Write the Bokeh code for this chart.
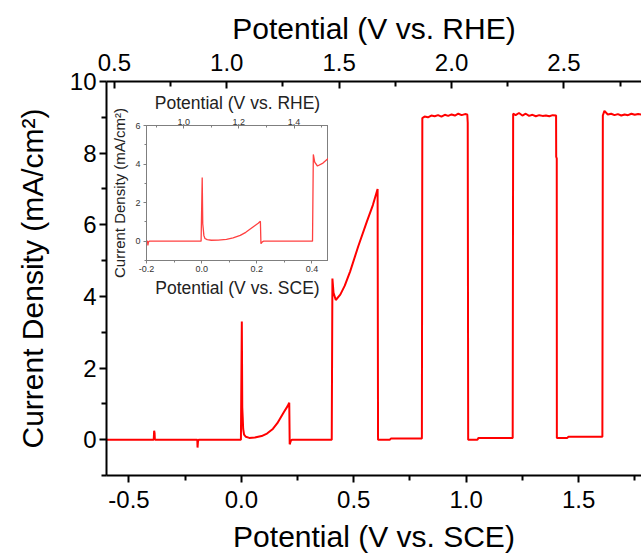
from bokeh.plotting import figure
from bokeh.models import Range1d, LinearAxis, FixedTicker, Column, NumeralTickFormatter
from bokeh.embed import file_html
from bokeh.resources import INLINE

# ---- data ----
potential_sce = [
    -0.6, -0.39, -0.388, -0.386, -0.385, -0.384,
    -0.196, -0.195, -0.193, -0.19,
    -0.002, 0.002, 0.004, 0.006, 0.008, 0.012, 0.02, 0.035, 0.06, 0.09,
    0.114, 0.14, 0.16, 0.175, 0.19, 0.205, 0.213, 0.215, 0.22, 0.225,
    0.402, 0.405, 0.41, 0.42, 0.44, 0.46, 0.484, 0.52, 0.559, 0.585, 0.606, 0.608,
    0.66, 0.665, 0.803,
    0.805, 0.815, 0.83, 0.845, 0.86, 0.875, 0.89, 0.905, 0.92, 0.935, 0.95, 0.965,
    0.98, 0.995, 1.005, 1.007, 1.009,
    1.05, 1.055, 1.207,
    1.209, 1.22, 1.235, 1.25, 1.265, 1.28, 1.295, 1.31, 1.325, 1.34, 1.355, 1.37,
    1.385, 1.4, 1.4005, 1.403, 1.4035,
    1.45, 1.455, 1.606,
    1.608, 1.615, 1.63, 1.645, 1.66, 1.675, 1.69, 1.705, 1.72, 1.735, 1.75, 1.765, 1.78,
]
current_density = [
    0.0, 0.0, 0.25, 0.18, 0.02, 0.0,
    0.0, -0.22, -0.05, 0.0,
    0.0, 3.3, 0.9, 0.62, 0.3, 0.14, 0.08, 0.05, 0.06, 0.1,
    0.17, 0.3, 0.46, 0.62, 0.78, 0.93, 1.03, -0.13, -0.03, 0.0,
    0.0, 4.5, 4.1, 3.9, 4.05, 4.3, 4.7, 5.4, 6.1, 6.55, 7.0, 0.0,
    0.0, 0.03, 0.03,
    8.98, 9.02, 9.0, 9.05, 9.03, 9.06, 9.02, 9.07, 9.04, 9.08, 9.05, 9.1,
    9.06, 9.09, 9.08, 8.85, 0.0,
    0.0, 0.05, 0.05,
    9.1, 9.06, 9.12, 9.05, 9.1, 9.04, 9.07, 9.03, 9.06, 9.04, 9.05, 9.03,
    9.06, 9.05, 7.9, 7.85, 0.05,
    0.05, 0.08, 0.08,
    9.05, 9.18, 9.08, 9.1, 9.06, 9.09, 9.05, 9.08, 9.06, 9.1, 9.07, 9.09, 9.08,
]

RHE_OFFSET = 1.065

main_x_ticks = [-0.5, 0.0, 0.5, 1.0, 1.5]
main_x_minor = [-0.25, 0.25, 0.75, 1.25, 1.75]
main_top_ticks = [0.5, 1.0, 1.5, 2.0, 2.5]
main_top_minor = [0.75, 1.25, 1.75, 2.25, 2.75]
main_y_ticks = [0, 2, 4, 6, 8, 10]
main_y_minor = [-1, 1, 3, 5, 7, 9]

inset_x_ticks = [-0.2, 0.0, 0.2, 0.4]
inset_x_minor = [-0.1, 0.1, 0.3]
inset_top_ticks = [1.0, 1.2, 1.4]
inset_top_minor = [0.9, 1.1, 1.3, 1.5]
inset_y_ticks = [0, 2, 4, 6]
inset_y_minor = [-1, 1, 3, 5]

FONT = "Liberation Sans"
MAIN_LEFT, MAIN_TOP, MAIN_BOTTOM = 106, 81, 80

# ---- main figure ----
x0, x1 = -0.6, 1.78
p = figure(width=641, height=555, x_range=Range1d(x0, x1), y_range=Range1d(-1, 10),
           x_axis_location=None, y_axis_location=None,
           output_backend="svg", toolbar_location=None,
           min_border_left=MAIN_LEFT, min_border_right=0,
           min_border_top=MAIN_TOP, min_border_bottom=MAIN_BOTTOM,
           outline_line_color=None, border_fill_color="white", background_fill_color="white")
p.extra_x_ranges = {"rhe": Range1d(x0 + RHE_OFFSET, x1 + RHE_OFFSET)}
p.xgrid.visible = False
p.ygrid.visible = False


def style_main(ax, ticks, minor, tick_in, tick_out, mtick_in, mtick_out):
    ax.ticker = FixedTicker(ticks=ticks, minor_ticks=minor)
    ax.axis_line_width = 2
    ax.axis_line_color = "black"
    ax.major_tick_line_width = 2
    ax.minor_tick_line_width = 2
    ax.major_tick_line_color = "black"
    ax.minor_tick_line_color = "black"
    ax.major_tick_in = tick_in
    ax.major_tick_out = tick_out
    ax.minor_tick_in = mtick_in
    ax.minor_tick_out = mtick_out
    ax.major_label_text_font = FONT
    ax.major_label_text_font_size = "24px"
    ax.major_label_text_color = "black"
    ax.axis_label_text_font = FONT
    ax.axis_label_text_font_size = "30px"
    ax.axis_label_text_font_style = "normal"
    ax.axis_label_text_color = "black"


bottom_axis = LinearAxis(axis_label="Potential (V vs. SCE)",
                         formatter=NumeralTickFormatter(format="0.0"))
style_main(bottom_axis, main_x_ticks, main_x_minor, 0, 7, 0, 5)
bottom_axis.major_label_standoff = 8
bottom_axis.axis_label_standoff = 9
p.add_layout(bottom_axis, "below")

top_axis = LinearAxis(x_range_name="rhe", axis_label="Potential (V vs. RHE)",
                      formatter=NumeralTickFormatter(format="0.0"))
style_main(top_axis, main_top_ticks, main_top_minor, 7, 0, 5, 0)
top_axis.major_label_standoff = 11
top_axis.axis_label_standoff = 6
p.add_layout(top_axis, "above")

left_axis = LinearAxis(axis_label="Current Density (mA/cm²)")
style_main(left_axis, main_y_ticks, main_y_minor, 0, 7, 0, 5)
left_axis.major_label_standoff = 3
left_axis.axis_label_standoff = 18
p.add_layout(left_axis, "left")

p.line(potential_sce, current_density, line_color="#ff0000", line_width=2)

# ---- inset figure (left border equal to the main one, since a column aligns them) ----
ix0, ix1 = -0.2, 0.46
IN_FRAME_LEFT, IN_FRAME_TOP = 146, 125
IN_W, IN_H = 182, 135
IN_TOP, IN_BOTTOM = 44, 44
ins = figure(width=MAIN_LEFT + IN_W, height=IN_TOP + IN_H + IN_BOTTOM,
             x_range=Range1d(ix0, ix1), y_range=Range1d(-1, 6),
             x_axis_location=None, y_axis_location=None,
             output_backend="svg", toolbar_location=None,
             min_border_left=MAIN_LEFT, min_border_right=0,
             min_border_top=IN_TOP, min_border_bottom=IN_BOTTOM,
             outline_line_color="#7f7f7f", outline_line_width=1,
             border_fill_color=None, background_fill_color="white",
             margin=(-(555 - IN_FRAME_TOP + IN_TOP), 0, 0, IN_FRAME_LEFT - MAIN_LEFT))
ins.extra_x_ranges = {"rhe": Range1d(ix0 + RHE_OFFSET, ix1 + RHE_OFFSET)}
ins.xgrid.visible = False
ins.ygrid.visible = False


def style_inset(ax, ticks, minor, tick_in, tick_out, label_size):
    ax.ticker = FixedTicker(ticks=ticks, minor_ticks=minor)
    ax.axis_line_color = "#7f7f7f"
    ax.axis_line_width = 1
    ax.major_tick_line_color = "#7f7f7f"
    ax.minor_tick_line_color = "#7f7f7f"
    ax.major_tick_in = tick_in
    ax.major_tick_out = tick_out
    ax.minor_tick_in = 2 if tick_in else 0
    ax.minor_tick_out = 2 if tick_out else 0
    ax.major_label_text_font = FONT
    ax.major_label_text_font_size = "9px"
    ax.major_label_text_color = "#333333"
    ax.axis_label_text_font = FONT
    ax.axis_label_text_font_size = label_size
    ax.axis_label_text_font_style = "normal"
    ax.axis_label_text_color = "#222222"


ins_bottom = LinearAxis(axis_label="Potential (V vs. SCE)",
                        formatter=NumeralTickFormatter(format="0.0"))
style_inset(ins_bottom, inset_x_ticks, inset_x_minor, 0, 3, "17.5px")
ins_bottom.major_label_standoff = 2
ins_bottom.axis_label_standoff = 3
ins.add_layout(ins_bottom, "below")

ins_top = LinearAxis(x_range_name="rhe", axis_label="Potential (V vs. RHE)",
                     formatter=NumeralTickFormatter(format="0.0"))
style_inset(ins_top, inset_top_ticks, inset_top_minor, 3, 0, "17.5px")
ins_top.major_label_standoff = 1
ins_top.axis_label_standoff = 3
ins.add_layout(ins_top, "above")

ins_left = LinearAxis(axis_label="Current Density (mA/cm²)")
style_inset(ins_left, inset_y_ticks, inset_y_minor, 0, 3, "15px")
ins_left.major_label_standoff = 3
ins_left.axis_label_standoff = 4
ins.add_layout(ins_left, "left")

ins.line(potential_sce, current_density, line_color="#ff4040", line_width=1.3)

layout = Column(p, ins, spacing=0)

open("out.html", "w").write(file_html(layout, INLINE))
